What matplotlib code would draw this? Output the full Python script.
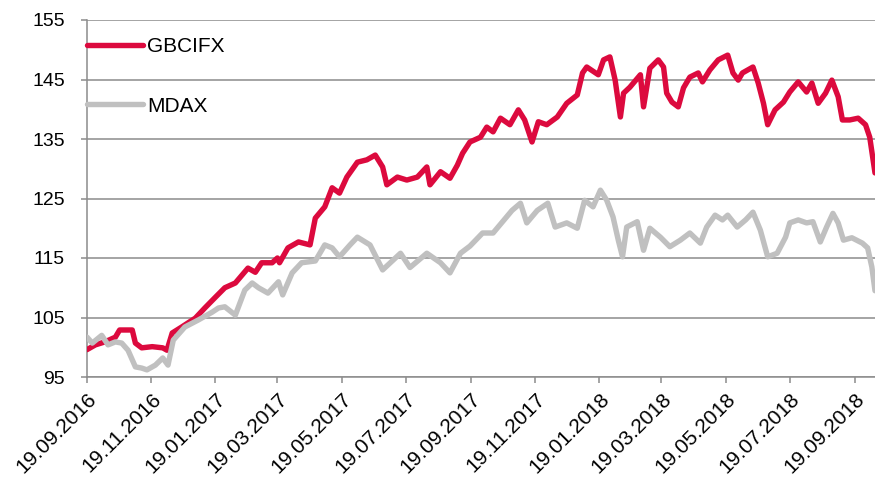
import numpy as np
import pandas as pd
import matplotlib
matplotlib.use("Agg")
import matplotlib.pyplot as plt
import matplotlib.dates as mdates

plt.rcParams['font.family'] = ['Liberation Sans', 'DejaVu Sans']

start = pd.Timestamp('2016-09-19')

# days since 19.09.2016 and index values
gb_days = [0, 8, 17, 27, 31, 43, 46, 52, 62, 72, 76, 81, 90, 103, 112, 122, 131, 141,
           153, 160, 166, 176, 181, 183, 191, 201, 212, 217, 226, 233, 240, 247, 257,
           266, 274, 281, 285, 295, 304, 314, 323, 326, 336, 345, 352, 357, 364, 374,
           380, 386, 393, 402, 410, 416, 423, 429, 437, 447, 456, 466, 471, 475, 486,
           491, 497, 502, 507, 510, 516, 526, 529, 535, 543, 548, 551, 556, 562, 567,
           573, 581, 585, 592, 600, 609, 614, 619, 623, 633, 638, 643, 647, 654, 662,
           668, 676, 684, 689, 695, 702, 708, 714, 718, 725, 733, 740, 744, 749]
gb_vals = [99.6, 100.4, 100.9, 101.7, 102.9, 102.9, 100.7, 99.9, 100.1, 99.9, 99.5,
           102.4, 103.4, 104.9, 106.6, 108.4, 110.0, 110.8, 113.3, 112.6, 114.2, 114.2,
           115.0, 114.2, 116.7, 117.7, 117.2, 121.7, 123.6, 126.8, 125.9, 128.6, 131.1,
           131.5, 132.3, 130.3, 127.3, 128.6, 128.1, 128.6, 130.3, 127.3, 129.5, 128.4,
           130.6, 132.6, 134.5, 135.3, 137.0, 136.2, 138.5, 137.4, 139.9, 138.2, 134.5,
           137.9, 137.4, 138.7, 141.0, 142.4, 146.1, 147.1, 145.8, 148.3, 148.8, 144.9,
           138.7, 142.7, 143.7, 145.8, 140.4, 146.9, 148.3, 147.1, 142.7, 141.2, 140.4,
           143.6, 145.4, 146.1, 144.6, 146.6, 148.3, 149.1, 146.1, 144.9, 146.1, 147.1,
           144.4, 141.0, 137.4, 139.9, 141.2, 142.9, 144.6, 142.9, 144.4, 141.0, 142.7,
           144.9, 142.1, 138.2, 138.2, 138.5, 137.4, 135.3, 129.3]

md_days = [0, 5, 14, 20, 27, 33, 39, 46, 52, 57, 65, 72, 77, 82, 93, 106, 119, 125,
           131, 141, 150, 157, 163, 172, 182, 186, 195, 204, 217, 226, 233, 240, 250,
           257, 269, 281, 298, 307, 323, 336, 345, 355, 364, 376, 386, 395, 404, 412,
           418, 428, 438, 445, 456, 466, 473, 481, 488, 494, 500, 505, 509, 513, 523,
           529, 535, 545, 554, 564, 573, 583, 589, 597, 604, 609, 618, 626, 633, 640,
           647, 656, 664, 668, 676, 684, 690, 697, 703, 709, 714, 719, 727, 737, 742,
           746, 749]
md_vals = [101.7, 100.7, 102.0, 100.4, 100.9, 100.7, 99.5, 96.7, 96.5, 96.2, 97.0,
           98.2, 97.0, 101.2, 103.4, 104.6, 105.9, 106.6, 106.8, 105.4, 109.6, 110.8,
           110.0, 109.1, 111.0, 108.8, 112.5, 114.2, 114.5, 117.2, 116.7, 115.2, 117.2,
           118.5, 117.2, 113.0, 115.8, 113.4, 115.8, 114.2, 112.5, 115.8, 117.0, 119.2,
           119.2, 121.1, 123.0, 124.2, 120.9, 123.0, 124.2, 120.2, 120.9, 120.0, 124.7,
           123.6, 126.4, 124.7, 121.9, 118.0, 115.2, 120.2, 121.1, 116.3, 120.0, 118.5,
           116.9, 118.0, 119.2, 117.5, 120.2, 122.2, 121.4, 122.2, 120.2, 121.4, 122.7,
           119.7, 115.2, 115.8, 118.5, 120.9, 121.4, 120.9, 121.1, 117.7, 120.2, 122.5,
           120.9, 118.0, 118.4, 117.5, 116.7, 113.5, 109.5]

y_ticks = [95, 105, 115, 125, 135, 145, 155]

gb_dates = start + pd.to_timedelta(gb_days, unit='D')
md_dates = start + pd.to_timedelta(md_days, unit='D')

red = '#DC0A3E'
grey = '#C0C0C0'
axis_col = '#8C8C8C'

fig = plt.figure(figsize=(8.75, 4.78), dpi=100)
ax = fig.add_axes([87/875, 1-377/478, 1-87/875, (377-20)/478])

ax.plot(gb_dates, gb_vals, color=red, lw=3.9, label='GBCIFX', zorder=3,
        solid_capstyle='round', solid_joinstyle='round')
ax.plot(md_dates, md_vals, color=grey, lw=3.9, label='MDAX', zorder=4,
        solid_capstyle='round', solid_joinstyle='round')

ax.set_ylim(95, 155)
ax.set_yticks(y_ticks)
ax.set_xlim(start, start + pd.Timedelta(days=749))
ax.xaxis.set_major_locator(mdates.MonthLocator(bymonth=[1, 3, 5, 7, 9, 11], bymonthday=19))
ax.xaxis.set_major_formatter(mdates.DateFormatter('%d.%m.%Y'))

ax.grid(axis='y', color=axis_col, lw=1.1)
ax.set_axisbelow(True)
for s in ['top', 'right']:
    ax.spines[s].set_visible(False)
for s in ['left', 'bottom']:
    ax.spines[s].set_color(axis_col)
    ax.spines[s].set_linewidth(1.1)

ax.tick_params(axis='y', length=4, width=1.1, color=axis_col, labelsize=14, pad=12)
ax.tick_params(axis='x', length=4, width=1.1, color=axis_col, labelsize=15, pad=5)
for lbl in ax.get_xticklabels():
    lbl.set_rotation(45)
    lbl.set_ha('right')
    lbl.set_va('top')
    lbl.set_rotation_mode('anchor')

ax.legend(loc='upper left', bbox_to_anchor=(0, 0.951), frameon=False, fontsize=15,
          handlelength=2.7, handletextpad=0.2, labelspacing=1.93,
          borderpad=0, borderaxespad=0)

fig.savefig('out.png', dpi=100)
